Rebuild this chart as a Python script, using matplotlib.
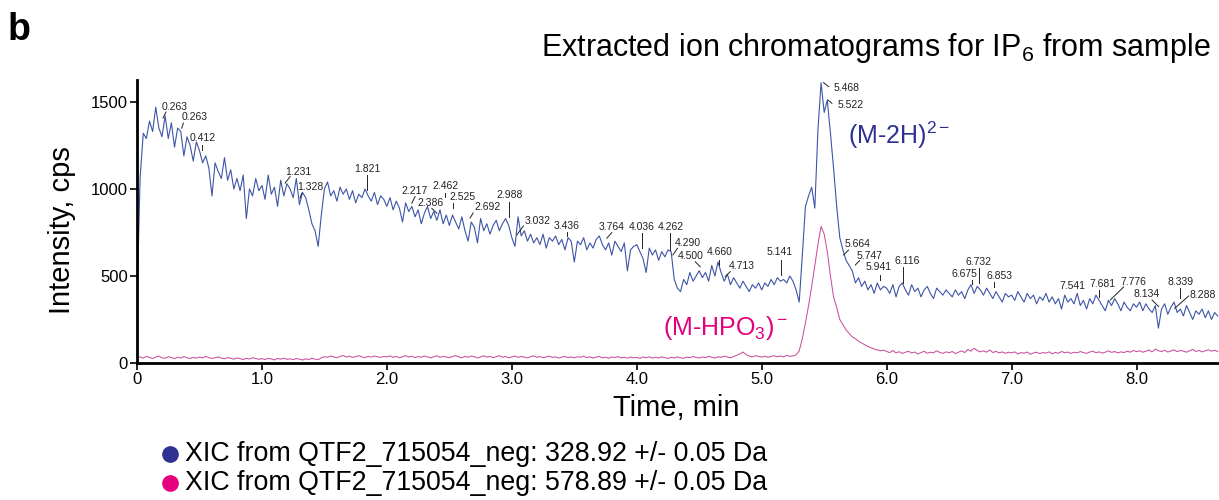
import numpy as np
import matplotlib
matplotlib.use("Agg")
from matplotlib import pyplot as plt

plt.rcParams['font.family'] = ['Liberation Sans', 'DejaVu Sans']
plt.rcParams['mathtext.fontset'] = 'custom'
plt.rcParams['mathtext.rm'] = 'Liberation Sans'
plt.rcParams['mathtext.it'] = 'Liberation Sans:italic'
plt.rcParams['mathtext.default'] = 'regular'

# scan times, one point every 0.025 min from 0 to 8.65 min
scan_time = np.linspace(0, 8.65, 347)

# XIC 328.92 (M-2H)2-, cps
xic_328 = [
    360, 1070, 1320, 1290, 1390, 1330, 1470, 1350, 1300, 1420, 1290, 1380, 1240, 1350, 1330, 1190, 1300, 1250, 1160, 1270,
    1220, 1150, 1190, 1120, 960, 1150, 1100, 1060, 1180, 1050, 1110, 1000, 1060, 990, 1080, 830, 1000, 960, 1060, 990,
    1020, 940, 1080, 970, 1010, 900, 1050, 960, 1030, 1000, 950, 1060, 910, 980, 950, 880, 800, 760, 670, 850,
    1000, 1040, 960, 990, 930, 1010, 970, 1000, 940, 990, 920, 970, 950, 1000, 960, 930, 980, 910, 960, 940,
    900, 950, 880, 930, 890, 810, 920, 870, 900, 840, 880, 800, 860, 900, 830, 870, 820, 880, 800, 850,
    790, 850, 810, 770, 840, 760, 700, 810, 780, 690, 830, 760, 800, 740, 790, 820, 760, 800, 830, 790,
    720, 670, 840, 730, 760, 700, 740, 690, 720, 680, 740, 660, 720, 700, 730, 680, 710, 650, 720, 700,
    580, 700, 680, 720, 650, 690, 660, 710, 730, 680, 650, 690, 620, 700, 670, 640, 690, 530, 650, 670,
    680, 640, 600, 520, 660, 620, 650, 590, 640, 610, 650, 640, 480, 430, 410, 480, 450, 520, 470, 500,
    530, 490, 520, 470, 560, 500, 580, 520, 470, 510, 450, 490, 460, 430, 470, 440, 410, 450, 430, 460,
    420, 460, 440, 480, 450, 490, 470, 480, 460, 500, 470, 420, 350, 620, 900, 960, 1010, 890, 1340, 1610,
    1440, 1510, 1320, 1120, 900, 720, 650, 590, 560, 530, 460, 490, 440, 470, 420, 450, 400, 460, 420, 440,
    430, 400, 450, 380, 440, 460, 420, 390, 450, 410, 430, 380, 420, 440, 400, 370, 430, 410, 390, 420,
    400, 380, 420, 390, 410, 370, 420, 450, 400, 440, 420, 390, 430, 400, 370, 410, 380, 350, 400, 380,
    390, 360, 410, 380, 350, 400, 370, 390, 340, 380, 360, 400, 350, 380, 340, 370, 310, 390, 350, 370,
    340, 400, 330, 360, 310, 370, 340, 390, 360, 330, 300, 360, 330, 370, 340, 300, 350, 320, 300, 340,
    320, 350, 300, 340, 310, 290, 330, 200, 310, 340, 280, 320, 350, 290, 310, 270, 330, 290, 250, 300,
    280, 310, 260, 300, 250, 290, 270,
]

# XIC 578.89 (M-HPO3)-, cps
xic_578 = [
    30, 35, 28, 38, 32, 26, 34, 40, 30, 27, 36, 31, 25, 33, 29, 37, 30, 26, 32, 28,
    34, 29, 38, 31, 26, 30, 35, 28, 24, 31, 27, 22, 29, 25, 20, 27, 23, 30, 26, 21,
    25, 20, 27, 23, 18, 26, 22, 28, 21, 24, 19, 26, 22, 17, 24, 20, 27, 22, 19, 30,
    36, 33, 40, 35, 30, 38, 43, 34, 39, 32, 37, 42, 35, 31, 38, 34, 40, 36, 32, 38,
    35, 41, 33, 38, 30, 36, 42, 34, 39, 31, 37, 33, 40, 35, 29, 36, 41, 33, 38, 34,
    31, 37, 43, 35, 30, 38, 33, 40, 36, 29, 35, 41, 34, 38, 31, 36, 42, 33, 37, 30,
    35, 40, 32, 38, 34, 29, 36, 41, 33, 37, 30, 35, 39, 32, 36, 28, 34, 38, 31, 35,
    30, 36, 33, 39, 31, 35, 28, 34, 38, 30, 33, 27, 35, 31, 37, 29, 33, 28, 34, 30,
    32, 27, 34, 30, 36, 28, 33, 29, 35, 31, 26, 33, 29, 35, 30, 27, 34, 31, 37, 32,
    29, 35, 31, 38, 33, 28, 36, 32, 40, 34, 30, 37, 45, 52, 63, 48, 40, 35, 42, 38,
    34, 39, 33, 37, 42, 36, 40, 35, 44, 38, 41, 46, 70, 140, 230, 330, 440, 560, 680, 785,
    740, 640, 500, 380, 320, 250, 220, 190, 170, 150, 140, 125, 115, 105, 95, 88, 80, 76, 70, 74,
    66, 60, 72, 58, 65, 55, 62, 68, 57, 63, 52, 60, 67, 56, 62, 58, 70, 61, 55, 64,
    59, 66, 54, 62, 70, 60, 78, 68, 85, 72, 64, 70, 62, 75, 60, 67, 58, 64, 56, 62,
    58, 64, 52, 60, 56, 63, 50, 58, 62, 54, 60, 57, 64, 53, 61, 56, 66, 59, 63, 55,
    62, 58, 66, 60, 55, 63, 68, 59, 64, 57, 62, 70, 61, 66, 58, 64, 60, 68, 62, 72,
    65, 70, 62, 68, 74, 64, 80, 70, 66, 73, 63, 69, 76, 65, 72, 68, 62, 70, 78, 66,
    72, 64, 70, 76, 68, 73, 66,
]

x_ticks = [0, 1, 2, 3, 4, 5, 6, 7, 8]
x_tick_labels = ['0', '1.0', '2.0', '3.0', '4.0', '5.0', '6.0', '7.0', '8.0']
y_ticks = [0, 500, 1000, 1500]

# peak labels: text, text position (min, cps), leader line start -> end
peak_labels = [
    ('0.263', 0.300, 1468, (0.232, 1442), (0.208, 1407)),
    ('0.263', 0.464, 1411, (0.371, 1378), (0.358, 1349)),
    ('0.412', 0.524, 1293, (0.518, 1253), (0.518, 1224)),
    ('1.231', 1.293, 1095, (1.225, 1071), (1.185, 1033)),
    ('1.328', 1.389, 1009, (1.318, 975), (1.305, 947)),
    ('1.821', 1.845, 1115, (1.839, 1080), (1.839, 994)),
    ('2.217', 2.218, 988, (2.226, 956), (2.199, 918)),
    ('2.386', 2.346, 922, (2.359, 889), (2.400, 860)),
    ('2.462', 2.466, 1017, (2.466, 975), (2.466, 956)),
    ('2.525', 2.602, 951, (2.532, 918), (2.532, 889)),
    ('2.692', 2.802, 894, (2.690, 862), (2.666, 833)),
    ('2.988', 2.982, 965, (2.981, 927), (2.981, 841)),
    ('3.032', 3.207, 816, (3.093, 787), (3.040, 736)),
    ('3.436', 3.439, 787, (3.440, 755), (3.440, 730)),
    ('3.764', 3.799, 779, (3.800, 749), (3.760, 717)),
    ('4.036', 4.039, 779, (4.041, 745), (4.041, 659)),
    ('4.262', 4.271, 779, (4.267, 745), (4.267, 649)),
    ('4.290', 4.408, 687, (4.326, 659), (4.289, 621)),
    ('4.500', 4.432, 615, (4.468, 582), (4.508, 553)),
    ('4.660', 4.664, 635, (4.662, 592), (4.662, 563)),
    ('4.713', 4.844, 557, (4.748, 525), (4.708, 496)),
    ('5.141', 5.144, 635, (5.154, 592), (5.154, 506)),
    ('5.468', 5.677, 1580, (5.535, 1588), (5.495, 1611)),
    ('5.522', 5.709, 1483, (5.562, 1492), (5.530, 1511)),
    ('5.664', 5.769, 684, (5.695, 649), (5.655, 621)),
    ('5.747', 5.861, 615, (5.783, 588), (5.749, 563)),
    ('5.941', 5.933, 549, (5.949, 506), (5.949, 477)),
    ('6.116', 6.165, 586, (6.127, 553), (6.127, 458)),
    ('6.675', 6.621, 511, (6.683, 477), (6.683, 454)),
    ('6.732', 6.737, 583, (6.741, 544), (6.741, 461)),
    ('6.853', 6.902, 500, (6.862, 467), (6.862, 438)),
    ('7.541', 7.490, 440, None, None),
    ('7.681', 7.726, 454, (7.697, 420), (7.697, 381)),
    ('7.776', 7.978, 463, (7.897, 437), (7.790, 362)),
    ('8.134', 8.079, 394, (8.124, 362), (8.177, 324)),
    ('8.339', 8.355, 463, (8.351, 429), (8.351, 372)),
    ('8.288', 8.531, 391, (8.417, 385), (8.305, 314)),
]

blue_line = '#3d55a6'
blue_dark = '#2e3192'
pink_line = '#c8509f'
pink_dark = '#e5007d'

fig = plt.figure(figsize=(12.19, 5.0), dpi=100)
ax = fig.add_axes([0.1124, 0.274, 0.8876, 0.566])

ax.plot(scan_time, xic_578, color=pink_line, lw=0.75)
ax.plot(scan_time, xic_328, color=blue_line, lw=0.8)

for txt, tx, ty, p1, p2 in peak_labels:
    ax.text(tx, ty, txt, fontsize=7.5, ha='center', va='center', color='#222222')
    if p1 is not None:
        ax.plot([p1[0], p2[0]], [p1[1], p2[1]], color='#222222', lw=0.7)

ax.text(5.693, 1310, r'(M-2H)$^{2-}$', color=blue_dark, fontsize=18, va='center', ha='left')
ax.text(4.211, 201, r'(M-HPO$_3$)$^-$', color=pink_dark, fontsize=18, va='center', ha='left')

ax.set_xlim(0, 8.66)
ax.set_ylim(0, 1626)
ax.set_xticks(x_ticks)
ax.set_xticklabels(x_tick_labels)
ax.set_yticks(y_ticks)
ax.tick_params(axis='both', labelsize=12, length=5, width=1.2, pad=1.5, direction='out')
for side in ['top', 'right']:
    ax.spines[side].set_visible(False)
for side in ['left', 'bottom']:
    ax.spines[side].set_linewidth(2.0)

fig.text(62 / 1219, 1 - 230 / 500, 'Intensity, cps', rotation=90, fontsize=21, ha='center', va='center')
fig.text(676 / 1219, 1 - 408 / 500, 'Time, min', fontsize=21, ha='center', va='center')
fig.text(0.993, 1 - 48 / 500, r'Extracted ion chromatograms for IP$_6$ from sample',
         fontsize=22, ha='right', va='center')
fig.text(0.006, 1 - 30 / 500, 'b', fontsize=27, fontweight='bold', ha='left', va='center')

legend_rows = [
    ('XIC from QTF2_715054_neg: 328.92 +/- 0.05 Da', blue_dark, 454),
    ('XIC from QTF2_715054_neg: 578.89 +/- 0.05 Da', pink_dark, 483),
]
for txt, col, ypx in legend_rows:
    fig.text(185 / 1219, 1 - ypx / 500, txt, fontsize=19.3, ha='left', va='center')
    fig.lines.append(plt.Line2D([170 / 1219], [1 - ypx / 500], marker='o', markersize=11,
                                color=col, transform=fig.transFigure, figure=fig))

fig.savefig('out.png', dpi=100)
